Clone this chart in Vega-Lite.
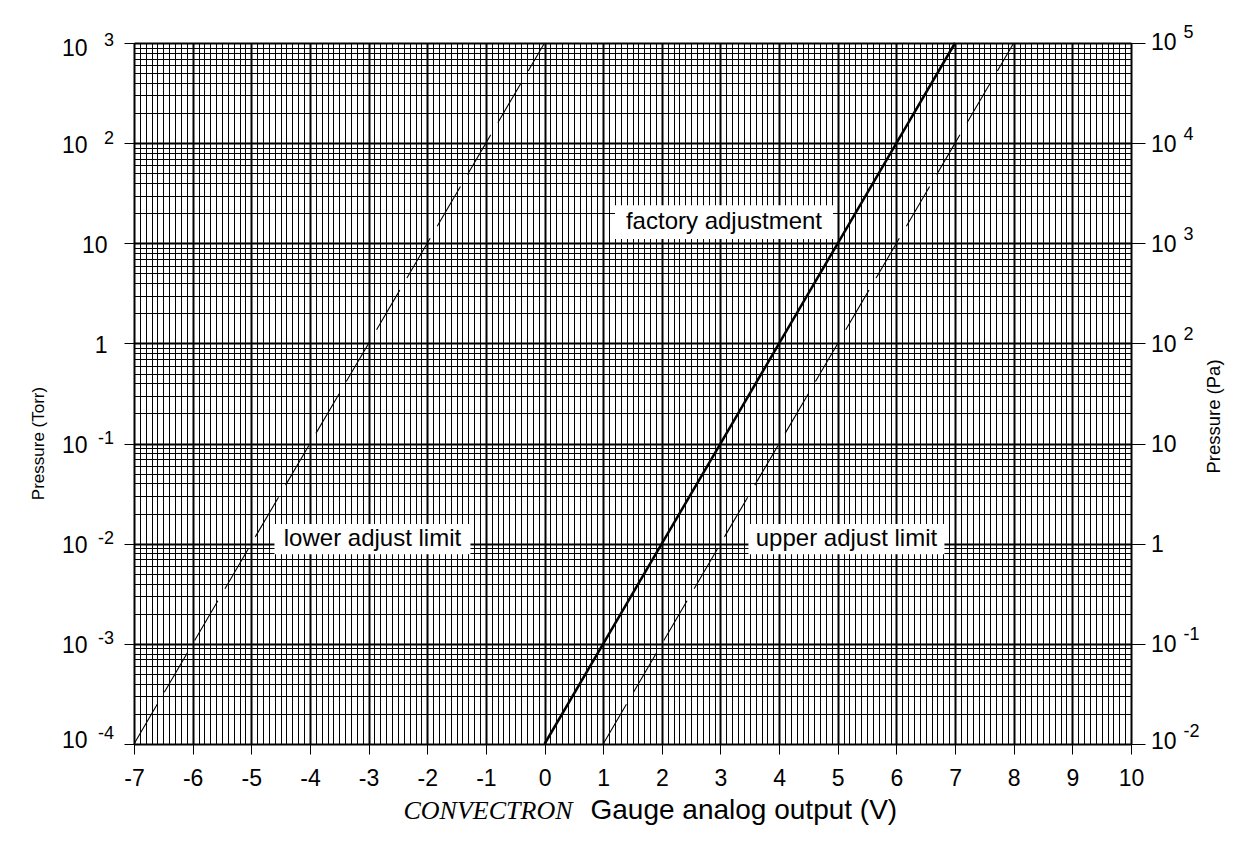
{
  "$schema": "https://vega.github.io/schema/vega-lite/v6.json",
  "width": 997,
  "height": 701,
  "autosize": {"type": "none"},
  "padding": {"left": 134, "top": 43, "right": 108, "bottom": 102},
  "background": "white",
  "config": {
    "view": {"stroke": null},
    "axis": {
      "labelFont": "Liberation Sans",
      "titleFont": "Liberation Sans",
      "labelColor": "black",
      "titleColor": "black",
      "tickColor": "black",
      "gridColor": "black",
      "gridOpacity": 1,
      "domain": false,
      "labelFlush": false,
      "labelOverlap": false,
      "titleFontWeight": "normal"
    }
  },
  "datasets": {
    "curves": [
      {"series": "factory", "V": 0, "P": 0.0001},
      {"series": "factory", "V": 1, "P": 0.001},
      {"series": "factory", "V": 2, "P": 0.01},
      {"series": "factory", "V": 3, "P": 0.1},
      {"series": "factory", "V": 4, "P": 1},
      {"series": "factory", "V": 5, "P": 10},
      {"series": "factory", "V": 6, "P": 100},
      {"series": "factory", "V": 7, "P": 1000},
      {"series": "lower", "V": -7, "P": 0.0001},
      {"series": "lower", "V": -6, "P": 0.001},
      {"series": "lower", "V": -5, "P": 0.01},
      {"series": "lower", "V": -4, "P": 0.1},
      {"series": "lower", "V": -3, "P": 1},
      {"series": "lower", "V": -2, "P": 10},
      {"series": "lower", "V": -1, "P": 100},
      {"series": "lower", "V": 0, "P": 1000},
      {"series": "upper", "V": 1, "P": 0.0001},
      {"series": "upper", "V": 2, "P": 0.001},
      {"series": "upper", "V": 3, "P": 0.01},
      {"series": "upper", "V": 4, "P": 0.1},
      {"series": "upper", "V": 5, "P": 1},
      {"series": "upper", "V": 6, "P": 10},
      {"series": "upper", "V": 7, "P": 100},
      {"series": "upper", "V": 8, "P": 1000}
    ],
    "labels": [
      {"label": "factory adjustment", "V": 3.06, "P": 16.3},
      {"label": "lower adjust limit", "V": -2.934, "P": 0.0111},
      {"label": "upper adjust limit", "V": 5.148, "P": 0.0111}
    ]
  },
  "resolve": {"axis": {"x": "independent", "y": "independent"}},
  "layer": [
    {
      "data": {"name": "curves"},
      "mark": {"type": "point", "opacity": 0},
      "encoding": {
        "x": {
          "field": "V", "type": "quantitative",
          "scale": {"domain": [-7, 10], "nice": false, "zero": false},
          "axis": {"orient": "bottom", "tickCount": 170, "grid": true, "gridWidth": 1, "ticks": false, "labels": false, "title": null}
        },
        "y": {
          "field": "P", "type": "quantitative",
          "scale": {"type": "log", "domain": [0.0001, 1000], "nice": false},
          "axis": {
            "orient": "left", "grid": true, "gridWidth": 1, "ticks": false, "labels": false, "title": null,
            "values": [0.0002, 0.0003, 0.0004, 0.0005, 0.0006, 0.0007, 0.0008, 0.0009,
                       0.002, 0.003, 0.004, 0.005, 0.006, 0.007, 0.008, 0.009,
                       0.02, 0.03, 0.04, 0.05, 0.06, 0.07, 0.08, 0.09,
                       0.2, 0.3, 0.4, 0.5, 0.6, 0.7, 0.8, 0.9,
                       2, 3, 4, 5, 6, 7, 8, 9,
                       20, 30, 40, 50, 60, 70, 80, 90,
                       200, 300, 400, 500, 600, 700, 800, 900]
          }
        }
      }
    },
    {
      "data": {"name": "curves"},
      "transform": [{"filter": "datum.series === 'factory'"}],
      "mark": {"type": "line", "color": "black", "strokeWidth": 2.5},
      "encoding": {
        "x": {
          "field": "V", "type": "quantitative",
          "scale": {"domain": [-7, 10], "nice": false, "zero": false},
          "axis": {
            "orient": "bottom",
            "values": [-7, -6, -5, -4, -3, -2, -1, 0, 1, 2, 3, 4, 5, 6, 7, 8, 9, 10],
            "grid": true, "gridWidth": 2, "ticks": true, "tickSize": 10, "tickWidth": 1,
            "labelFontSize": 23, "labelBaseline": "alphabetic", "labelPadding": 31,
            "labelExpr": "'' + datum.value", "title": null
          }
        },
        "y": {
          "field": "P", "type": "quantitative",
          "scale": {"type": "log", "domain": [0.0001, 1000], "nice": false},
          "axis": {
            "orient": "left",
            "values": [0.0001, 0.001, 0.01, 0.1, 1, 10, 100, 1000],
            "grid": true, "gridWidth": 2, "ticks": true, "tickSize": 10, "tickWidth": 1,
            "labelFontSize": 23, "labelAlign": "right", "labelBaseline": "alphabetic", "labelPadding": 37,
            "labelExpr": "datum.value > 0.5 && datum.value < 20 ? '' : '10'",
            "labelOffset": {"condition": [{"test": "datum.value < 0.0002", "value": 3}, {"test": "datum.value > 500", "value": 12}], "value": 9},
            "title": "Pressure (Torr)", "titleFontSize": 17, "titleAngle": 270,
            "titleX": -96, "titleY": 400, "titleAlign": "center", "titleBaseline": "middle"
          }
        }
      }
    },
    {
      "data": {"name": "curves"},
      "transform": [{"filter": "datum.series === 'lower'"}],
      "mark": {"type": "line", "color": "black", "strokeWidth": 1.1, "strokeDash": [46, 14]},
      "encoding": {
        "x": {
          "field": "V", "type": "quantitative",
          "scale": {"domain": [-7, 10], "nice": false, "zero": false},
          "axis": {
            "orient": "bottom", "values": [-7], "grid": false, "ticks": false, "labels": false,
            "title": "CONVECTRON", "titleFont": "Liberation Serif", "titleFontStyle": "italic", "titleFontSize": 26,
            "titleX": 269, "titleY": 74, "titleAlign": "left", "titleAnchor": "start", "titleBaseline": "alphabetic"
          }
        },
        "y": {
          "field": "P", "type": "quantitative",
          "scale": {"type": "log", "domain": [0.0001, 1000], "nice": false},
          "axis": {
            "orient": "left",
            "values": [0.0001, 0.001, 0.01, 0.1, 100, 1000],
            "grid": false, "ticks": true, "tickSize": 10, "tickOpacity": 0,
            "labelFontSize": 18, "labelAlign": "right", "labelBaseline": "alphabetic", "labelPadding": 10.5,
            "labelExpr": "'' + round(log(datum.value) / LN10)",
            "labelOffset": {"condition": [{"test": "datum.value < 0.0002", "value": -6}, {"test": "datum.value > 500", "value": 2}], "value": 0},
            "title": null
          }
        }
      }
    },
    {
      "data": {"name": "curves"},
      "transform": [{"filter": "datum.series === 'upper'"}],
      "mark": {"type": "line", "color": "black", "strokeWidth": 1.1, "strokeDash": [46, 14]},
      "encoding": {
        "x": {
          "field": "V", "type": "quantitative",
          "scale": {"domain": [-7, 10], "nice": false, "zero": false},
          "axis": {
            "orient": "bottom", "values": [-7], "grid": false, "ticks": false, "labels": false,
            "title": "Gauge analog output (V)", "titleFontSize": 28,
            "titleX": 456, "titleY": 74, "titleAlign": "left", "titleAnchor": "start", "titleBaseline": "alphabetic"
          }
        },
        "y": {
          "field": "P", "type": "quantitative",
          "scale": {"type": "log", "domain": [0.0001, 1000], "nice": false},
          "axis": {
            "orient": "left",
            "values": [1, 10],
            "grid": false, "ticks": true, "tickSize": 10, "tickOpacity": 0,
            "labelFontSize": 23, "labelAlign": "right", "labelBaseline": "alphabetic", "labelPadding": 17,
            "labelExpr": "datum.value < 5 ? '1' : '10'",
            "labelOffset": 9,
            "title": null
          }
        }
      }
    },
    {
      "data": {"name": "labels"},
      "mark": {"type": "point", "shape": "M-1,-0.155L1,-0.155L1,0.155L-1,0.155Z", "filled": true, "color": "white", "opacity": 1, "strokeWidth": 0},
      "encoding": {
        "x": {
          "field": "V", "type": "quantitative",
          "scale": {"domain": [-7, 10], "nice": false, "zero": false},
          "axis": null
        },
        "y": {
          "field": "P", "type": "quantitative",
          "scale": {"type": "log", "domain": [0.0001, 1000], "nice": false},
          "axis": {
            "orient": "right",
            "values": [0.0001, 0.001, 0.01, 0.1, 1, 10, 100, 1000],
            "grid": false, "ticks": true, "tickSize": 14, "tickWidth": 1,
            "labelFontSize": 23, "labelAlign": "left", "labelBaseline": "alphabetic", "labelPadding": 5.5,
            "labelExpr": "datum.value > 0.005 && datum.value < 0.02 ? '1' : '10'",
            "labelOffset": {"condition": [{"test": "datum.value > 500", "value": 6}, {"test": "datum.value < 0.0002", "value": 4}], "value": 8},
            "title": "Pressure (Pa)", "titleFontSize": 18.5, "titleAngle": 270,
            "titleX": 82, "titleY": 373, "titleAlign": "center", "titleBaseline": "middle"
          }
        },
        "size": {"condition": {"test": "datum.label === 'factory adjustment'", "value": 47524}, "value": 38416}
      }
    },
    {
      "data": {"name": "labels"},
      "mark": {"type": "text", "font": "Liberation Sans", "fontSize": 24, "align": "center", "baseline": "middle", "color": "black"},
      "encoding": {
        "x": {
          "field": "V", "type": "quantitative",
          "scale": {"domain": [-7, 10], "nice": false, "zero": false},
          "axis": null
        },
        "y": {
          "field": "P", "type": "quantitative",
          "scale": {"type": "log", "domain": [0.0001, 1000], "nice": false},
          "axis": {
            "orient": "right",
            "values": [0.0001, 0.001, 1, 10, 100, 1000],
            "grid": false, "ticks": true, "tickSize": 14, "tickOpacity": 0,
            "labelFontSize": 18, "labelAlign": "left", "labelBaseline": "alphabetic", "labelPadding": 38,
            "labelExpr": "'' + (round(log(datum.value) / LN10) + 2)",
            "labelOffset": {"condition": [{"test": "datum.value > 500", "value": -6}, {"test": "datum.value < 0.0002", "value": -8}], "value": -4},
            "title": null
          }
        },
        "text": {"field": "label", "type": "nominal"}
      }
    }
  ]
}
